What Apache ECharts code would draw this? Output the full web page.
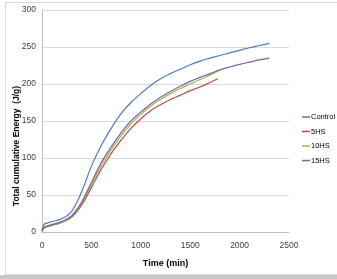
<!DOCTYPE html>
<html><head><meta charset="utf-8">
<script src="https://cdn.jsdelivr.net/npm/echarts@6/dist/echarts.min.js"></script>
<style>html,body{margin:0;padding:0;background:#fff}#c{width:337px;height:279px}</style>
</head><body><div id="c"></div>
<script>
const seriesNames = ['Control', '5HS', '10HS', '15HS'];
const xTicks = [0, 500, 1000, 1500, 2000, 2500];
const yTicks = [0, 50, 100, 150, 200, 250, 300];

const controlTime = [0, 20, 50, 100, 200, 300, 400, 500, 600, 700, 800, 900, 1000, 1100, 1200, 1300, 1400, 1500, 1600, 1700, 1800, 1900, 2000, 2100, 2200, 2300];
const controlVal  = [2, 10, 12, 14, 18, 28, 54, 89, 117, 140, 160, 175, 187, 198, 207, 214, 220, 226, 231, 235, 238.5, 242, 245.5, 249, 252, 255];

const hs5Time = [0, 20, 50, 100, 200, 300, 400, 500, 600, 700, 800, 900, 1000, 1100, 1200, 1300, 1400, 1500, 1600, 1700, 1780];
const hs5Val  = [1, 5, 7, 9, 13, 20, 36, 60, 85, 106, 124, 140, 153, 164, 172, 179, 185, 191, 196, 202, 207];

const hs10Time = [0, 20, 50, 100, 200, 300, 400, 500, 600, 700, 800, 900, 1000, 1100, 1200, 1300, 1400, 1500, 1600, 1700, 1790];
const hs10Val  = [1, 5, 7, 9.5, 13.5, 21, 38, 64, 90, 111, 130, 146, 159, 170, 179, 187, 194, 200, 206, 212, 218];

const hs15Time = [0, 20, 50, 100, 200, 300, 400, 500, 600, 700, 800, 900, 1000, 1100, 1200, 1300, 1400, 1500, 1600, 1700, 1800, 1900, 2000, 2100, 2200, 2300];
const hs15Val  = [1, 6, 8, 10, 14, 22, 40, 67, 94, 115, 134, 150, 162, 173, 182, 190, 197, 203.5, 209, 214, 219, 223, 226.5, 229.5, 232.5, 235];

const colors = ['#4a7ebb', '#be4b48', '#98b954', '#7d60a0'];
const pairs = (t, v) => t.map((x, i) => [x, v[i]]);
const allData = [pairs(controlTime, controlVal), pairs(hs5Time, hs5Val), pairs(hs10Time, hs10Val), pairs(hs15Time, hs15Val)];

const font = "'Liberation Sans Narrow', 'Liberation Sans', sans-serif";
const chart = echarts.init(document.getElementById('c'), null, {renderer: 'canvas'});
chart.setOption({
  animation: false,
  color: colors,
  grid: {left: 42, top: 10, right: 48, bottom: 47, containLabel: false},
  xAxis: {
    type: 'value', min: xTicks[0], max: xTicks[xTicks.length - 1], interval: 500,
    name: 'Time (min)', nameLocation: 'middle', nameGap: 27,
    nameTextStyle: {fontFamily: font, fontSize: 9, fontWeight: 'bold', color: '#000'},
    axisLine: {show: true, lineStyle: {color: '#bfbfbf', width: 1}},
    axisTick: {show: false},
    axisLabel: {fontFamily: font, fontSize: 8.5, color: '#404040', margin: 9, formatter: v => String(v)},
    splitLine: {show: false}
  },
  yAxis: {
    type: 'value', min: yTicks[0], max: yTicks[yTicks.length - 1], interval: 50,
    axisLine: {show: true, lineStyle: {color: '#bfbfbf', width: 1}},
    axisTick: {show: false},
    axisLabel: {fontFamily: font, fontSize: 8.5, color: '#404040', margin: 6, formatter: v => String(v)},
    splitLine: {show: true, lineStyle: {color: '#d9d9d9', width: 1}}
  },
  legend: {
    orient: 'vertical', left: 302, top: 110,
    data: seriesNames,
    icon: 'rect', itemWidth: 8, itemHeight: 1.5, itemGap: 0.5,
    textStyle: {fontFamily: font, fontSize: 7.5, color: '#000', lineHeight: 14, padding: [0, 0, 0, -4]},
    padding: 0
  },
  graphic: [
    {type: 'rect', shape: {x: 5.5, y: 2.5, width: 340, height: 272}, style: {fill: 'none', stroke: '#d9d9d9', lineWidth: 1}, z: -10},
    {type: 'rect', shape: {x: 0, y: 275, width: 337, height: 4}, style: {fill: '#c8c8c8'}, z: -10},
    {type: 'text', x: 17, y: 146, rotation: Math.PI / 2,
     style: {text: 'Total cumulative Energy  (J/g)', font: 'bold 8.5px ' + font, fill: '#000', align: 'center', verticalAlign: 'middle'}}
  ],
  series: seriesNames.map((n, i) => ({
    name: n, type: 'line', data: allData[i], smooth: 0.4, showSymbol: false,
    lineStyle: {width: 1.2, color: colors[i]}, itemStyle: {color: colors[i]}
  }))
});
</script></body></html>
